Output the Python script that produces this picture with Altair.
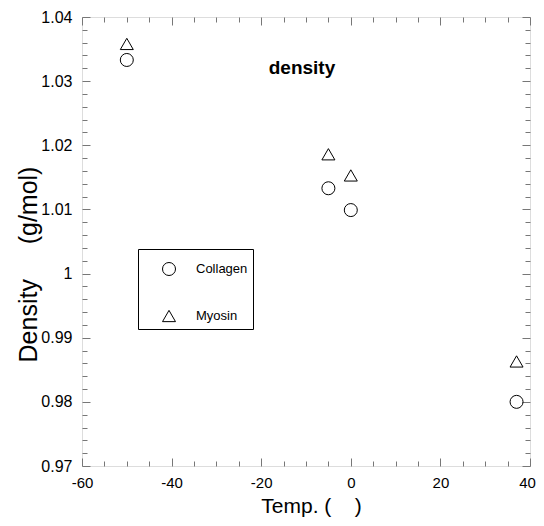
import altair as alt
import pandas as pd

FONT = "Liberation Sans"
NB = "\u00a0"

temps = [-50, -5, 0, 37]
collagen = [1.0333, 1.0133, 1.0099, 0.9800]
myosin = [1.0358, 1.0186, 1.0153, 0.9863]
series_names = ["Collagen", "Myosin"]

x_major = [-60, -40, -20, 0, 20, 40]
x_minor = [-55, -50, -45, -35, -30, -25, -15, -10, -5, 5, 10, 15, 25, 30, 35]
y_major = [0.97, 0.98, 0.99, 1.00, 1.01, 1.02, 1.03, 1.04]
y_minor = [0.972, 0.974, 0.976, 0.978, 0.982, 0.984, 0.986, 0.988,
           0.992, 0.994, 0.996, 0.998, 1.002, 1.004, 1.006, 1.008,
           1.012, 1.014, 1.016, 1.018, 1.022, 1.024, 1.026, 1.028,
           1.032, 1.034, 1.036, 1.038]

x_title = "Temp. (" + NB * 4 + ")"
y_title = "Density" + NB * 5 + "(g/mol)"

rows = []
for t, v in zip(temps, collagen):
    rows.append({"temp": t, "density": v, "series": "Collagen"})
for t, v in zip(temps, myosin):
    rows.append({"temp": t, "density": v, "series": "Myosin"})
df = pd.DataFrame(rows)

xs = alt.Scale(domain=[-60, 40], nice=False, zero=False)
ys = alt.Scale(domain=[0.97, 1.04], nice=False, zero=False)

TICK = "#777777"


def tick_axis(orient, values, size):
    return alt.Axis(orient=orient, values=values, offset=-size, tickSize=size,
                    labels=False, domain=False, grid=False, tickColor=TICK,
                    title=None)


base = alt.Chart(df)

main = base.mark_point(filled=False, color="black", strokeWidth=1, size=169, opacity=1).encode(
    x=alt.X("temp:Q", scale=xs, axis=alt.Axis(
        orient="bottom", values=x_major, offset=-8, tickSize=8, labelPadding=9,
        domain=False, grid=False, tickColor=TICK, labelFlush=False,
        labelOverlap=False,
        labelOffset={"condition": {"test": "datum.value == 40", "value": -3}, "value": 0},
        labelExpr="toString(datum.value)",
        labelFontSize=15, labelFont=FONT, labelColor="black",
        title=x_title, titleFontSize=21, titleFont=FONT,
        titleFontWeight="normal", titleColor="black", titlePadding=5,
        titleX=229)),
    y=alt.Y("density:Q", scale=ys, axis=alt.Axis(
        orient="left", values=y_major, offset=-8, tickSize=8, labelPadding=10,
        domain=False, grid=False, tickColor=TICK, labelFlush=False,
        labelOverlap=False,
        labelExpr="format(datum.value, '.2~f')",
        labelFontSize=16, labelFont=FONT, labelColor="black",
        title=y_title, titleFontSize=25, titleFont=FONT,
        titleFontWeight="normal", titleColor="black",
        titleX=-62, titleY=247, titleBaseline="middle")),
    shape=alt.Shape("series:N",
                    scale=alt.Scale(domain=series_names, range=["circle", "triangle-up"]),
                    legend=alt.Legend(
                        orient="none", legendX=56, legendY=232,
                        title=" ", titleFontSize=3, titlePadding=5, padding=5,
                        strokeColor="black", fillColor="white",
                        symbolOffset=19, labelOffset=20, rowPadding=30,
                        labelFontSize=13, labelFont=FONT, labelColor="black",
                        symbolSize=169, symbolStrokeWidth=1,
                        symbolStrokeColor="black")),
)

layer_minor = base.mark_point(opacity=0).encode(
    x=alt.X("temp:Q", scale=xs, axis=tick_axis("bottom", x_minor, 5)),
    y=alt.Y("density:Q", scale=ys, axis=tick_axis("left", y_minor, 5)),
)
layer_opp_major = base.mark_point(opacity=0).encode(
    x=alt.X("temp:Q", scale=xs, axis=tick_axis("top", x_major, 8)),
    y=alt.Y("density:Q", scale=ys, axis=tick_axis("right", y_major, 8)),
)
layer_opp_minor = base.mark_point(opacity=0).encode(
    x=alt.X("temp:Q", scale=xs, axis=tick_axis("top", x_minor, 5)),
    y=alt.Y("density:Q", scale=ys, axis=tick_axis("right", y_minor, 5)),
)

chart = alt.layer(main, layer_minor, layer_opp_major, layer_opp_minor).resolve_axis(
    x="independent", y="independent"
).properties(
    width=448,
    height=449,
    title=alt.TitleParams("density", fontSize=19, fontWeight="bold", font=FONT,
                          anchor="middle", frame="group", offset=0, dy=84, dx=-4,
                          baseline="alphabetic", color="black"),
    autosize=alt.AutoSizeParams(type="none"),
    padding={"left": 74, "top": 9, "right": 6, "bottom": 60},
).configure_view(stroke="black", strokeWidth=1).configure(background="white")

chart.save("out.html", embed_options={"renderer": "svg", "actions": False})
